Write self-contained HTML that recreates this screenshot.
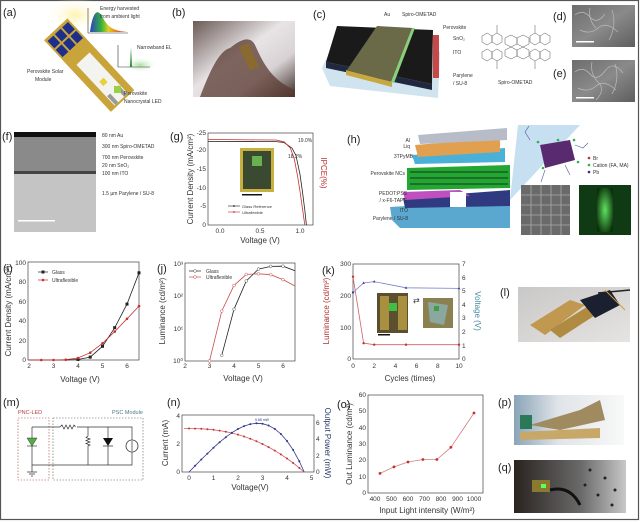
<!DOCTYPE html>
<html><head><meta charset="utf-8"><style>
html,body{margin:0;padding:0;background:#fff}
svg{display:block}
text{font-family:"Liberation Sans",sans-serif;fill:#333}
.t{font-size:6.5px}
.ax{font-size:8px}
.pl{font-size:11px;fill:#222}
.sm{font-size:5px}
</style></head><body>
<svg width="640" height="522" viewBox="0 0 640 522" xmlns="http://www.w3.org/2000/svg">
<defs>
<linearGradient id="rain" x1="0" x2="1"><stop offset="0" stop-color="#3040c0"/><stop offset=".3" stop-color="#30b040"/><stop offset=".5" stop-color="#e0d020"/><stop offset=".7" stop-color="#e08020"/><stop offset="1" stop-color="#d02020"/></linearGradient>
<radialGradient id="glowy" cx=".5" cy=".5" r=".5"><stop offset="0" stop-color="#fff3b0"/><stop offset="1" stop-color="#fff" stop-opacity="0"/></radialGradient>
<radialGradient id="glowg" cx=".5" cy=".5" r=".5"><stop offset="0" stop-color="#a8e0a0"/><stop offset="1" stop-color="#fff" stop-opacity="0"/></radialGradient>
<linearGradient id="photoB" x1="0" y1="0" x2="1" y2="1"><stop offset="0" stop-color="#6a5a55"/><stop offset=".45" stop-color="#e8e4e6"/><stop offset=".7" stop-color="#d8d2d4"/><stop offset="1" stop-color="#3a2a25"/></linearGradient>
<linearGradient id="sem" x1="0" y1="0" x2="1" y2="1"><stop offset="0" stop-color="#6d6d6d"/><stop offset=".5" stop-color="#8a8a8a"/><stop offset="1" stop-color="#5e5e5e"/></linearGradient>
<linearGradient id="tem" x1="0" y1="0" x2="0" y2="1"><stop offset="0" stop-color="#9a9a9a"/><stop offset="1" stop-color="#b8b8b8"/></linearGradient>
<linearGradient id="photoL" x1="0" y1="0" x2="1" y2="1"><stop offset="0" stop-color="#c8c8c8"/><stop offset=".5" stop-color="#d8d6d4"/><stop offset="1" stop-color="#e6e4e2"/></linearGradient>
<linearGradient id="photoP" x1="0" y1="0" x2="1" y2="0"><stop offset="0" stop-color="#8aa4b8"/><stop offset=".4" stop-color="#e0e4e8"/><stop offset="1" stop-color="#f8f8f8"/></linearGradient>
<linearGradient id="photoQ" x1="0" y1="0" x2="1" y2="0"><stop offset="0" stop-color="#2a2320"/><stop offset=".6" stop-color="#6a6a6a"/><stop offset="1" stop-color="#c8c8c8"/></linearGradient>
<radialGradient id="gtube" cx=".5" cy=".5" r=".6"><stop offset="0" stop-color="#60e060"/><stop offset="1" stop-color="#0a300a"/></radialGradient>
</defs>

<rect x="0.5" y="0.5" width="638" height="519" fill="none" stroke="#555" stroke-width="1.2"/>

<!-- (a) -->
<text class="pl" x="3" y="16">(a)</text>
<ellipse cx="75" cy="15" rx="30" ry="18" fill="url(#glowy)"/>
<ellipse cx="140" cy="65" rx="18" ry="8" fill="url(#glowg)"/>
<g transform="translate(55,30) rotate(47)">
<rect x="0" y="-17" width="98" height="32" fill="#c9a43a"/>
<rect x="40" y="-10" width="56" height="18" fill="#f3f3ef"/>
<rect x="3" y="-15" width="10" height="8" fill="#1d2f8a"/><rect x="3" y="-5" width="10" height="8" fill="#1d2f8a"/><rect x="3" y="5" width="10" height="8" fill="#1d2f8a"/>
<rect x="15" y="-15" width="10" height="8" fill="#1d2f8a"/><rect x="15" y="-5" width="10" height="8" fill="#1d2f8a"/><rect x="15" y="5" width="10" height="8" fill="#1d2f8a"/>
<rect x="68" y="-3" width="6" height="6" fill="#e8d040"/>
<rect x="84" y="-9" width="12" height="4" fill="#999"/><rect x="84" y="3" width="12" height="4" fill="#999"/>
</g>
<rect x="114" y="86" width="7" height="7" fill="#9bd040"/>
<path d="M88,8 V33 H128" fill="none" stroke="#333" stroke-width=".6"/>
<path d="M90,32 C93,10 98,8 103,18 C108,28 115,31 127,32 Z" fill="url(#rain)"/>
<text class="sm" x="100" y="10">Energy harvested</text>
<text class="sm" x="100" y="18">from ambient light</text>
<path d="M118,45 V67 H150" fill="none" stroke="#333" stroke-width=".6"/>
<path d="M130,67 L131,47 L132,67 Z" fill="#2a8a30"/>
<text class="sm" x="137" y="49">Narrowband EL</text>
<text class="sm" x="27" y="73">Perovskite Solar</text>
<text class="sm" x="35" y="81">Module</text>
<text class="sm" x="124" y="95">Perovskite</text>
<text class="sm" x="124" y="103">Nanocrystal LED</text>

<!-- (b) -->
<text class="pl" x="172" y="16">(b)</text>
<rect x="193" y="21" width="102" height="76" fill="url(#photoB)"/>
<path d="M200,97 C210,70 220,50 230,48 C240,40 250,35 255,45 C262,60 270,80 295,90 L295,97 Z" fill="#5a3a30" opacity=".75"/>
<rect x="244" y="44" width="10" height="26" fill="#8a6a30" transform="rotate(-25 249 57)"/>

<!-- (c) -->
<text class="pl" x="313" y="18">(c)</text>
<polygon points="322,68 336,38 440,52 438,98 330,86" fill="#cfe4ee"/>
<polygon points="326,62 337,26 433,30 432,84" fill="#1a1a1a"/>
<polygon points="326,62 326,68 432,90 432,84" fill="#202840"/>
<polygon points="377,26 413,28 392,82 347,70" fill="#6a6a48"/>
<polygon points="346,70 392,82 392,87 346,75" fill="#c8a840"/>
<polygon points="412,28 415,28 394,83 391,82" fill="#8ad07a"/>
<rect x="433" y="35" width="6" height="43" fill="#c84848"/>
<text class="sm" x="384" y="16">Au</text>
<text class="sm" x="402" y="16">Spiro-OMETAD</text>
<text class="sm" x="443" y="29">Perovskite</text>
<text class="sm" x="453" y="40">SnO₂</text>
<text class="sm" x="453" y="54">ITO</text>
<text class="sm" x="453" y="77">Parylene</text>
<text class="sm" x="453" y="85">/ SU-8</text>
<g stroke="#555" stroke-width=".5" fill="none">
<polygon points="505,38 511,35 517,38 517,44 511,47 505,44"/><polygon points="517,38 523,35 529,38 529,44 523,47 517,44"/>
<polygon points="505,50 511,47 517,50 517,56 511,59 505,56"/><polygon points="517,50 523,47 529,50 529,56 523,59 517,56"/>
<polygon points="492,36 497,33 502,36 502,42 497,45 492,42"/><polygon points="530,36 535,33 540,36 540,42 535,45 530,42"/>
<polygon points="492,52 497,49 502,52 502,58 497,61 492,58"/><polygon points="530,52 535,49 540,52 540,58 535,61 530,58"/>
<polygon points="482,36 487,33 492,36 492,42 487,45 482,42"/><polygon points="540,36 545,33 550,36 550,42 545,45 540,42"/>
<polygon points="482,52 487,49 492,52 492,58 487,61 482,58"/><polygon points="540,52 545,49 550,52 550,58 545,61 540,58"/>
<path d="M497,33 V25 M535,33 V25 M497,61 V69 M535,61 V69"/>
</g>
<text class="sm" x="498" y="84">Spiro-OMETAD</text>

<!-- (d)(e) -->
<text class="pl" x="553" y="20">(d)</text>
<rect x="572" y="5" width="63" height="42" fill="url(#sem)"/>
<path d="M575,15 q8,-6 15,2 t15,-3 M580,30 q10,5 18,-2 t20,4 M590,8 q-2,12 6,20 M612,10 q5,15 -3,30" stroke="#bbb" stroke-width=".7" fill="none"/>
<rect x="576" y="41" width="18" height="1.5" fill="#fff"/>
<text class="pl" x="553" y="77">(e)</text>
<rect x="572" y="60" width="63" height="42" fill="url(#sem)"/>
<path d="M575,72 q8,-6 15,2 t15,-3 t18,2 M578,88 q10,5 18,-2 t20,4 M592,62 q-2,12 6,20 t-2,18 M615,64 q5,15 -3,30" stroke="#bbb" stroke-width=".7" fill="none"/>
<rect x="576" y="97" width="18" height="1.5" fill="#fff"/>

<!-- (f) -->
<text class="pl" x="2" y="140">(f)</text>
<rect x="14" y="132" width="82" height="100" fill="url(#tem)"/>
<rect x="14" y="132" width="82" height="5" fill="#111"/>
<rect x="14" y="137" width="82" height="35" fill="#8a8a8a"/>
<rect x="14" y="171" width="82" height="3" fill="#444"/>
<rect x="14" y="174" width="82" height="58" fill="#c4c4c4"/>
<rect x="18" y="220" width="37" height="1.5" fill="#fff"/>
<g class="sm"><text x="102" y="137">80 nm  Au</text><text x="102" y="148">300 nm Spiro-OMETAD</text><text x="102" y="159">700 nm Perovskite</text><text x="102" y="167">20 nm SnO₂</text><text x="102" y="175">100 nm ITO</text><text x="102" y="195">1.5 µm Parylene / SU-8</text></g>

<!-- (g) -->
<text class="pl" x="170" y="140">(g)</text>
<rect x="208" y="133" width="105" height="92" fill="none" stroke="#444" stroke-width=".7"/>
<g class="t" text-anchor="end">
<text x="206" y="135">-25</text><text x="206" y="152">-20</text><text x="206" y="171">-15</text><text x="206" y="190">-10</text><text x="206" y="208">-5</text><text x="206" y="227">0</text></g>
<g class="t" text-anchor="middle"><text x="220" y="233">0.0</text><text x="260" y="233">0.5</text><text x="300" y="233">1.0</text></g>
<text class="ax" x="260" y="243" text-anchor="middle">Voltage (V)</text>
<text class="ax" transform="translate(193,179) rotate(-90)" text-anchor="middle">Current Density (mA/cm²)</text>
<text class="ax" transform="translate(321,173) rotate(90)" text-anchor="middle" style="fill:#c03030">IPCE(%)</text>
<rect x="240" y="148" width="34" height="44" fill="#c8b040"/>
<rect x="243" y="151" width="28" height="38" fill="#3a4a30"/>
<rect x="252" y="156" width="10" height="10" fill="#6ab050"/>
<rect x="242" y="194" width="20" height="1.5" fill="#111"/>
<polyline points="208,141.4 276,141.6 284,142.5 292,148.1 296,155.6 300,174.4 302.4,191.3 304.8,210 306.4,225" fill="none" stroke="#222" stroke-width=".8"/>
<polyline points="208,139.5 276,140 284,141.8 290.4,148.1 294.4,159.4 297.6,176.3 300,191.3 302.4,208.1 304.8,225" fill="none" stroke="#c83030" stroke-width=".8"/>
<text class="sm" x="298" y="142">19.0%</text><text class="sm" x="288" y="158">18.2%</text>
<line x1="228" y1="206" x2="240" y2="206" stroke="#222" stroke-width=".6"/><circle cx="234" cy="206" r=".9" fill="#222"/>
<line x1="228" y1="212" x2="240" y2="212" stroke="#c83030" stroke-width=".6"/><circle cx="234" cy="212" r=".9" fill="#c83030"/>
<text class="sm" x="242" y="208" style="font-size:4px">Glass Reference</text><text class="sm" x="242" y="214" style="font-size:4px">Ultraflexible</text>

<!-- (h) -->
<text class="pl" x="347" y="143">(h)</text>
<polygon points="390,207 510,200 510,228 400,228 392,220" fill="#5aa8d0"/>
<polygon points="403,198 510,190 510,206 405,208" fill="#303a80"/>
<polygon points="403,192 460,190 470,196 405,200" fill="#c050c0"/>
<rect x="450" y="192" width="16" height="15" fill="#fff"/>
<polygon points="407,168 510,165 510,188 407,190" fill="#22a832"/>
<g fill="#1e6e28"><rect x="410" y="171" width="98" height="2"/><rect x="410" y="177" width="98" height="2"/><rect x="410" y="183" width="98" height="2"/></g>
<polygon points="412,155 505,148 505,162 415,164" fill="#4ab0d8"/>
<polygon points="415,145 500,138 500,152 418,157" fill="#e0a050"/>
<polygon points="418,135 507,128 507,140 420,144" fill="#b8bcc8"/>
<g class="sm" text-anchor="end"><text x="410" y="142">Al</text><text x="410" y="148">Liq</text><text x="413" y="158">3TPyMB</text><text x="405" y="175">Perovskite NCs</text><text x="407" y="195">PEDOT:PSS</text><text x="407" y="202">/ x-F6-TAPC</text><text x="408" y="212">ITO</text><text x="408" y="220">Parylene / SU-8</text></g>
<polygon points="510,200 580,125 518,125" fill="#c0dcef" opacity=".9"/>
<polygon points="540,145 570,140 575,160 545,168" fill="#5a2a70"/>
<g fill="#30b050"><circle cx="538" cy="142" r="1.3"/><circle cx="574" cy="140" r="1.3"/><circle cx="578" cy="162" r="1.3"/><circle cx="543" cy="168" r="1.3"/><circle cx="558" cy="140" r="1.3"/></g>
<path d="M530,140 l-5,-8 l4,-6 M575,145 l8,3 l5,-5 M545,170 l-4,12 M565,165 l5,10" stroke="#4a5aa0" stroke-width=".6" fill="none"/>
<circle cx="589" cy="158" r="1.3" fill="#c03030"/><circle cx="589" cy="165" r="1.3" fill="#30b050"/><circle cx="589" cy="172" r="1.3" fill="#2a3090"/>
<g class="sm"><text x="593" y="160">Br</text><text x="593" y="167">Cation (FA, MA)</text><text x="593" y="174">Pb</text></g>
<rect x="521" y="185" width="49" height="50" fill="#6a6a6a"/>
<path d="M521,195 h49 M521,205 h49 M521,215 h49 M521,225 h49 M531,185 v50 M541,185 v50 M551,185 v50 M561,185 v50" stroke="#aaa" stroke-width=".8"/>
<rect x="579" y="185" width="52" height="50" fill="#0f3a14"/>
<rect x="597" y="188" width="16" height="44" fill="url(#gtube)"/>

<!-- (i) -->
<text class="pl" x="3" y="272">(i)</text>
<rect x="28" y="262" width="111" height="98" fill="none" stroke="#444" stroke-width=".7"/>
<g class="t" text-anchor="end"><text x="26" y="362">0</text><text x="26" y="343">20</text><text x="26" y="323">40</text><text x="26" y="304">60</text><text x="26" y="284">80</text><text x="26" y="265">100</text></g>
<g class="t" text-anchor="middle"><text x="29" y="368">2</text><text x="53.5" y="368">3</text><text x="78" y="368">4</text><text x="102.5" y="368">5</text><text x="127" y="368">6</text></g>
<text class="ax" x="80" y="382" text-anchor="middle">Voltage (V)</text>
<text class="ax" transform="translate(11,311) rotate(-90)" text-anchor="middle">Current Density (mA/cm²)</text>
<g fill="none" stroke-width=".8">
<polyline stroke="#222" points="29,360 41.25,360 53.5,360 65.75,360 78,359.5 90.25,357.1 102.5,346.3 114.75,327.7 127,304.1 139,272.8"/>
<polyline stroke="#c83030" points="29,360 41.25,360 53.5,360 65.75,359.7 78,358 90.25,352.7 102.5,343.3 114.75,331.6 127,318.8 139,306.1"/></g>
<g fill="#222"><rect x="76.5" y="358" width="3" height="3"/><rect x="88.7" y="355.6" width="3" height="3"/><rect x="101" y="344.8" width="3" height="3"/><rect x="113.2" y="326.2" width="3" height="3"/><rect x="125.5" y="302.6" width="3" height="3"/><rect x="137.5" y="271.3" width="3" height="3"/></g>
<g fill="#c83030"><circle cx="41.25" cy="360" r="1.3"/><circle cx="53.5" cy="360" r="1.3"/><circle cx="65.75" cy="359.7" r="1.3"/><circle cx="78" cy="358" r="1.3"/><circle cx="90.25" cy="352.7" r="1.3"/><circle cx="102.5" cy="343.3" r="1.3"/><circle cx="114.75" cy="331.6" r="1.3"/><circle cx="127" cy="318.8" r="1.3"/><circle cx="139" cy="306.1" r="1.3"/></g>
<line x1="38" y1="272" x2="48" y2="272" stroke="#222" stroke-width=".7"/><rect x="41.5" y="270.5" width="3" height="3" fill="#222"/>
<line x1="38" y1="280" x2="48" y2="280" stroke="#c83030" stroke-width=".7"/><circle cx="43" cy="280" r="1.3" fill="#c83030"/>
<text class="sm" x="52" y="274">Glass</text><text class="sm" x="52" y="282">Ultraflexible</text>

<!-- (j) -->
<text class="pl" x="157" y="272">(j)</text>
<rect x="185" y="263" width="110" height="98" fill="none" stroke="#444" stroke-width=".7"/>
<g class="t" text-anchor="end"><text x="183" y="363">10⁰</text><text x="183" y="331">10¹</text><text x="183" y="298">10²</text><text x="183" y="266">10³</text></g>
<g class="t" text-anchor="middle"><text x="185" y="368">2</text><text x="209.5" y="368">3</text><text x="234" y="368">4</text><text x="258.5" y="368">5</text><text x="283" y="368">6</text></g>
<text class="ax" x="243" y="381" text-anchor="middle">Voltage (V)</text>
<text class="ax" transform="translate(165,311) rotate(-90)" text-anchor="middle">Luminance (cd/m²)</text>
<g fill="#fff" stroke-width=".8">
<polyline fill="none" stroke="#222" points="221.75,355.3 234,309.3 246.25,281 258.5,269.1 270.75,266.4 283,266.2 295,270.8"/>
<polyline fill="none" stroke="#c85050" points="209.5,361 221.75,311.1 234,285.4 246.25,274.4 258.5,273.8 270.75,274.7 283,279.6 295,286"/>
<g stroke="#555" stroke-width=".5"><circle cx="221.75" cy="355.3" r="1.4"/><circle cx="234" cy="309.3" r="1.4"/><circle cx="246.25" cy="281" r="1.4"/><circle cx="258.5" cy="269.1" r="1.4"/><circle cx="270.75" cy="266.4" r="1.4"/><circle cx="283" cy="266.2" r="1.4"/></g>
<g stroke="#c85050" stroke-width=".5"><circle cx="209.5" cy="361" r="1.4"/><circle cx="221.75" cy="311.1" r="1.4"/><circle cx="234" cy="285.4" r="1.4"/><circle cx="246.25" cy="274.4" r="1.4"/><circle cx="258.5" cy="273.8" r="1.4"/><circle cx="270.75" cy="274.7" r="1.4"/><circle cx="283" cy="279.6" r="1.4"/></g>
</g>
<line x1="189" y1="271" x2="201" y2="271" stroke="#222" stroke-width=".7"/><circle cx="195" cy="271" r="1.4" fill="#fff" stroke="#555" stroke-width=".5"/>
<line x1="189" y1="277" x2="201" y2="277" stroke="#c85050" stroke-width=".7"/><circle cx="195" cy="277" r="1.4" fill="#fff" stroke="#c85050" stroke-width=".5"/>
<text class="sm" x="206" y="273">Glass</text><text class="sm" x="206" y="279">Ultraflexible</text>

<!-- (k) -->
<text class="pl" x="322" y="274">(k)</text>
<rect x="353" y="264" width="106" height="95" fill="none" stroke="#444" stroke-width=".7"/>
<g class="t" text-anchor="end"><text x="351" y="361">0</text><text x="351" y="330">100</text><text x="351" y="298">200</text><text x="351" y="266">300</text></g>
<g class="t"><text x="462" y="361">0</text><text x="462" y="348">1</text><text x="462" y="334">2</text><text x="462" y="320">3</text><text x="462" y="307">4</text><text x="462" y="293">5</text><text x="462" y="280">6</text><text x="462" y="266">7</text></g>
<g class="t" text-anchor="middle"><text x="353" y="368">0</text><text x="374.2" y="368">2</text><text x="395.4" y="368">4</text><text x="416.6" y="368">6</text><text x="437.8" y="368">8</text><text x="459" y="368">10</text></g>
<text class="ax" x="410" y="381" text-anchor="middle">Cycles (times)</text>
<text class="ax" transform="translate(329,311) rotate(-90)" text-anchor="middle" style="fill:#b03030">Luminance (cd/m²)</text>
<text class="ax" transform="translate(475,311) rotate(90)" text-anchor="middle" style="fill:#4a8aa0">Voltage (V)</text>
<polyline fill="none" stroke="#d06060" stroke-width=".8" points="353,276.7 363.6,343.2 374.2,344.7 406,344.7 459,344.7"/>
<g fill="#c83030"><circle cx="353" cy="276.7" r="1.2"/><circle cx="363.6" cy="343.2" r="1.2"/><circle cx="374.2" cy="344.7" r="1.2"/><circle cx="406" cy="344.7" r="1.2"/><circle cx="459" cy="344.7" r="1.2"/></g>
<polyline fill="none" stroke="#7a80c8" stroke-width=".8" points="353,292.5 363.6,283 374.2,281.6 406,287.8 459,288.4"/>
<g fill="#3a40a0"><circle cx="353" cy="292.5" r="1.2"/><path d="M363.6,281.5 l1.4,2.4 h-2.8z"/><path d="M374.2,280.1 l1.4,2.4 h-2.8z"/><path d="M406,286.3 l1.4,2.4 h-2.8z"/><path d="M459,286.9 l1.4,2.4 h-2.8z"/></g>
<rect x="377" y="293" width="31" height="40" fill="#5a5030"/>
<rect x="380" y="296" width="9" height="34" fill="#a89040"/><rect x="398" y="296" width="9" height="34" fill="#a89040"/>
<rect x="389" y="303" width="8" height="8" fill="#40c040"/>
<rect x="378" y="334" width="12" height="1.5" fill="#111"/>
<text x="413" y="303" style="font-size:8px">⇄</text>
<rect x="423" y="298" width="30" height="30" fill="#8a8050"/>
<polygon points="428,302 448,305 444,325 430,322" fill="#8aa8a0"/>
<rect x="434" y="306" width="5" height="5" fill="#40a040"/>

<!-- (l) -->
<text class="pl" x="500" y="296">(l)</text>
<rect x="518" y="287" width="112" height="55" fill="url(#photoL)"/>
<polygon points="530,325 570,300 585,305 545,335" fill="#c09850"/>
<polygon points="550,330 590,305 600,312 560,338" fill="#b08a40"/>
<polygon points="580,300 610,290 620,305 595,318" fill="#1a2030"/>
<line x1="598" y1="293" x2="630" y2="290" stroke="#222" stroke-width="1.5"/>
<line x1="605" y1="290" x2="625" y2="310" stroke="#d0a040" stroke-width="1"/>

<!-- (m) -->
<text class="pl" x="3" y="406">(m)</text>
<text class="sm" x="18" y="414" style="fill:#b04040;font-size:5.5px">PNC-LED</text>
<text class="sm" x="112" y="414" style="fill:#4a7a8a;font-size:5.5px">PSC Module</text>
<rect x="18" y="418" width="31" height="62" fill="none" stroke="#b04040" stroke-width=".6" stroke-dasharray="1.5,1.5"/>
<rect x="53" y="418" width="90" height="62" fill="none" stroke="#555" stroke-width=".6" stroke-dasharray="1.5,1.5"/>
<g stroke="#333" stroke-width=".7" fill="none">
<path d="M32,427 H60 M77,427 H132 V465 H32 V427"/>
<path d="M60,427 l2,-2 l2,4 l2,-4 l2,4 l2,-4 l2,4 l2,-4 l1.5,2"/>
<path d="M88,427 V436 l-2,1.5 l4,1.5 l-4,1.5 l4,1.5 l-4,1.5 l4,1.5 l-2,1 V465"/>
<path d="M108,427 V438 M108,446 V465 M103,446 H113"/>
<path d="M32,465 V472 M27,472 H37 M29,474 H35 M31,476 H33"/>
</g>
<polygon points="103,438 113,438 108,446" fill="#111"/>
<circle cx="132" cy="446" r="6" fill="#fff" stroke="#333" stroke-width=".8"/>
<line x1="132" y1="441" x2="132" y2="451" stroke="#333" stroke-width=".7"/>
<polygon points="27,438 37,438 32,446" fill="#50b040" stroke="#333" stroke-width=".5"/>
<line x1="27" y1="446" x2="37" y2="446" stroke="#333" stroke-width=".7"/>

<!-- (n) -->
<text class="pl" x="167" y="406">(n)</text>
<rect x="182" y="415" width="132" height="57" fill="none" stroke="#444" stroke-width=".7"/>
<g class="t" text-anchor="end"><text x="180" y="474">0</text><text x="180" y="446">2</text><text x="180" y="418">4</text></g>
<g class="t"><text x="316" y="474">0</text><text x="316" y="458">2</text><text x="316" y="441">4</text><text x="316" y="425">6</text></g>
<g class="t" text-anchor="middle"><text x="189" y="480">0</text><text x="213.5" y="480">1</text><text x="238" y="480">2</text><text x="262.5" y="480">3</text><text x="287" y="480">4</text><text x="311.5" y="480">5</text></g>
<text class="ax" x="250" y="490" text-anchor="middle">Voltage(V)</text>
<text class="ax" transform="translate(168,443) rotate(-90)" text-anchor="middle">Current (mA)</text>
<text class="ax" transform="translate(325,443) rotate(90)" text-anchor="middle" style="fill:#2a3a6a">Output Power (mW)</text>
<text x="262" y="421" text-anchor="middle" style="font-size:3.5px;fill:#2a3a8a">5.88 mW</text>
<g fill="none" stroke-width=".8">
<polyline stroke="#d06060" points="184,428.5 189,428.5 195.1,428.6 201.3,428.8 207.4,429.2 213.5,429.8 219.6,430.6 225.8,431.7 231.9,433 238,434.6 244.1,436.5 250.3,438.7 256.4,441.2 262.5,444 268.6,447.1 274.8,450.6 280.9,454.4 287,458.5 293.1,463 299.3,467.9 304.2,472"/>
<polyline stroke="#303a8a" points="189,472 195.1,465.8 201.3,459.5 207.4,453.6 213.5,447.7 219.6,442.2 225.8,437.2 231.9,432.7 238,429 244.1,426.1 250.3,424.1 256.4,423.3 262.5,423.7 268.6,425.5 274.8,428.9 280.9,434 287,441 293.1,449.9 299.3,461.3 304.2,472"/></g>
<g fill="#c83030"><circle cx="189" cy="428.5" r="1"/><circle cx="195.1" cy="428.6" r="1"/><circle cx="201.3" cy="428.8" r="1"/><circle cx="207.4" cy="429.2" r="1"/><circle cx="213.5" cy="429.8" r="1"/><circle cx="219.6" cy="430.6" r="1"/><circle cx="225.8" cy="431.7" r="1"/><circle cx="231.9" cy="433" r="1"/><circle cx="238" cy="434.6" r="1"/><circle cx="244.1" cy="436.5" r="1"/><circle cx="250.3" cy="438.7" r="1"/><circle cx="256.4" cy="441.2" r="1"/><circle cx="262.5" cy="444" r="1"/><circle cx="268.6" cy="447.1" r="1"/><circle cx="274.8" cy="450.6" r="1"/><circle cx="280.9" cy="454.4" r="1"/><circle cx="287" cy="458.5" r="1"/><circle cx="293.1" cy="463" r="1"/><circle cx="299.3" cy="467.9" r="1"/></g>
<g fill="#2a3490"><circle cx="195.1" cy="465.8" r="1"/><circle cx="201.3" cy="459.5" r="1"/><circle cx="207.4" cy="453.6" r="1"/><circle cx="213.5" cy="447.7" r="1"/><circle cx="219.6" cy="442.2" r="1"/><circle cx="225.8" cy="437.2" r="1"/><circle cx="231.9" cy="432.7" r="1"/><circle cx="238" cy="429" r="1"/><circle cx="244.1" cy="426.1" r="1"/><circle cx="250.3" cy="424.1" r="1"/><circle cx="256.4" cy="423.3" r="1"/><circle cx="262.5" cy="423.7" r="1"/><circle cx="268.6" cy="425.5" r="1"/><circle cx="274.8" cy="428.9" r="1"/><circle cx="280.9" cy="434" r="1"/><circle cx="287" cy="441" r="1"/><circle cx="293.1" cy="449.9" r="1"/><circle cx="299.3" cy="461.3" r="1"/></g>

<!-- (o) -->
<text class="pl" x="337" y="408">(o)</text>
<rect x="368" y="395" width="115" height="98" fill="none" stroke="#444" stroke-width=".7"/>
<g class="t" text-anchor="end"><text x="366" y="495">0</text><text x="366" y="479">10</text><text x="366" y="462">20</text><text x="366" y="446">30</text><text x="366" y="430">40</text><text x="366" y="413">50</text><text x="366" y="397">60</text></g>
<g class="t" text-anchor="middle"><text x="375" y="501">400</text><text x="391.5" y="501">500</text><text x="408" y="501">600</text><text x="424.5" y="501">700</text><text x="441" y="501">800</text><text x="457.5" y="501">900</text><text x="474" y="501">1000</text></g>
<text class="ax" x="427" y="513" text-anchor="middle">Input Light intensity (W/m²)</text>
<text class="ax" transform="translate(352,444) rotate(-90)" text-anchor="middle">Out Luminance (cd/m²)</text>
<polyline fill="none" stroke="#d08080" stroke-width=".8" points="380,473.4 394,466.9 408,462 422.9,459.5 436.9,459.5 450.9,447.3 474,413"/>
<g fill="#c83030"><circle cx="380" cy="473.4" r="1.4"/><circle cx="394" cy="466.9" r="1.4"/><circle cx="408" cy="462" r="1.4"/><circle cx="422.9" cy="459.5" r="1.4"/><circle cx="436.9" cy="459.5" r="1.4"/><circle cx="450.9" cy="447.3" r="1.4"/><circle cx="474" cy="413" r="1.4"/></g>

<!-- (p) -->
<text class="pl" x="498" y="406">(p)</text>
<rect x="514" y="395" width="110" height="50" fill="url(#photoP)"/>
<polygon points="530,425 580,410 600,400 605,420 560,430" fill="#a08a60"/>
<rect x="520" y="415" width="12" height="14" fill="#2a7a5a"/>
<polygon points="520,432 600,428 600,438 520,440" fill="#c8a868"/>

<!-- (q) -->
<text class="pl" x="498" y="471">(q)</text>
<rect x="514" y="460" width="112" height="53" fill="url(#photoQ)"/>
<rect x="532" y="480" width="18" height="12" fill="#8a7a30"/>
<rect x="541" y="484" width="5" height="4" fill="#60ff60"/>
<path d="M550,490 q20,-5 30,15" stroke="#111" stroke-width="3" fill="none"/>
<g fill="#222"><circle cx="590" cy="470" r="1.5"/><circle cx="605" cy="478" r="1.5"/><circle cx="598" cy="495" r="1.5"/><circle cx="615" cy="490" r="1.5"/><circle cx="612" cy="505" r="1.5"/><circle cx="585" cy="485" r="1.5"/></g>
</svg>
</body></html>
